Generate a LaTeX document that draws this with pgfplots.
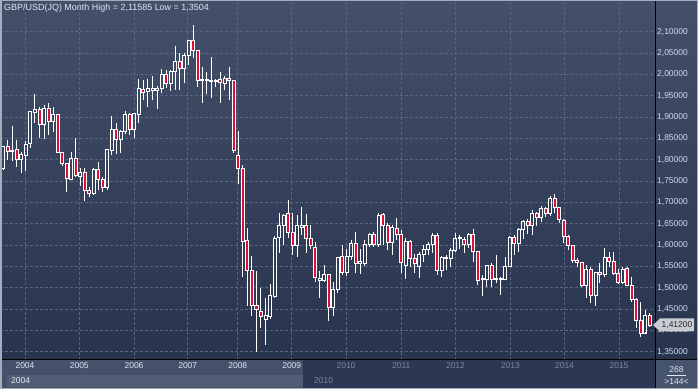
\documentclass[border=0pt]{standalone}
\usepackage{pgfplots}
\pgfplotsset{compat=1.18}
\usepackage{pgfplotstable}
\usepackage{fontspec}
\setmainfont{Liberation Sans}
\definecolor{bgtop}{RGB}{68,80,106}
\definecolor{bgbot}{RGB}{40,51,78}
\definecolor{gridc}{RGB}{88,101,128}
\definecolor{candred}{RGB}{222,14,54}
\definecolor{labc}{RGB}{205,220,240}
\definecolor{titc}{RGB}{222,230,240}
\definecolor{dimc}{RGB}{125,136,156}
\definecolor{stripdark}{RGB}{44,55,83}
\definecolor{striplight}{RGB}{69,81,107}
\definecolor{scrollc}{RGB}{82,94,120}
\definecolor{cornerc}{RGB}{70,83,108}
\definecolor{bordc}{RGB}{165,172,186}
\definecolor{pricebox}{RGB}{200,204,210}

\pgfplotstableread{
k O H L C
1 1.780 1.833 1.776 1.830
2 1.832 1.846 1.799 1.820
3 1.819 1.878 1.797 1.822
4 1.823 1.846 1.784 1.801
5 1.801 1.817 1.770 1.813
6 1.811 1.845 1.774 1.836
7 1.838 1.913 1.828 1.912
8 1.911 1.954 1.885 1.918
9 1.918 1.924 1.850 1.883
10 1.883 1.928 1.849 1.920
11 1.920 1.932 1.858 1.889
12 1.889 1.924 1.866 1.906
13 1.906 1.907 1.815 1.817
14 1.817 1.819 1.785 1.792
15 1.792 1.792 1.725 1.756
16 1.754 1.819 1.752 1.803
17 1.803 1.850 1.760 1.764
18 1.760 1.780 1.738 1.770
19 1.770 1.780 1.704 1.729
20 1.729 1.737 1.713 1.721
21 1.721 1.780 1.717 1.777
22 1.777 1.795 1.729 1.754
23 1.754 1.760 1.725 1.735
24 1.735 1.825 1.730 1.824
25 1.821 1.902 1.811 1.870
26 1.870 1.887 1.813 1.848
27 1.848 1.870 1.816 1.867
28 1.867 1.913 1.860 1.905
29 1.905 1.909 1.858 1.871
30 1.871 1.909 1.850 1.909
31 1.906 1.990 1.885 1.966
32 1.965 1.987 1.940 1.957
33 1.960 1.988 1.924 1.966
34 1.962 1.995 1.940 1.967
35 1.963 1.972 1.918 1.967
36 1.967 2.012 1.957 1.999
37 1.999 2.010 1.968 1.979
38 1.979 2.010 1.962 2.006
39 2.006 2.066 1.963 2.031
40 2.031 2.049 1.963 2.014
41 2.014 2.049 1.979 2.045
42 2.045 2.081 2.022 2.079
43 2.079 2.11585 2.038 2.056
44 2.056 2.056 1.971 1.985
45 1.985 2.018 1.932 1.988
46 1.986 2.006 1.955 1.988
47 1.984 2.040 1.945 1.986
48 1.984 1.990 1.971 1.986
49 1.987 2.006 1.934 1.981
50 1.979 1.995 1.963 1.991
51 1.991 2.018 1.941 1.985
52 1.985 1.987 1.815 1.821
53 1.811 1.868 1.743 1.780
54 1.780 1.788 1.526 1.608
55 1.612 1.639 1.456 1.540
56 1.540 1.574 1.434 1.458
57 1.458 1.540 1.3504 1.448
58 1.445 1.499 1.405 1.432
59 1.426 1.477 1.366 1.434
60 1.432 1.509 1.426 1.481
61 1.479 1.621 1.475 1.616
62 1.618 1.674 1.581 1.647
63 1.647 1.673 1.600 1.670
64 1.673 1.705 1.616 1.629
65 1.629 1.674 1.577 1.600
66 1.598 1.670 1.571 1.645
67 1.642 1.690 1.624 1.647
68 1.645 1.673 1.582 1.616
69 1.616 1.647 1.590 1.600
70 1.595 1.608 1.514 1.524
71 1.518 1.540 1.477 1.522
72 1.518 1.553 1.514 1.532
73 1.532 1.532 1.423 1.454
74 1.454 1.514 1.434 1.495
75 1.495 1.572 1.487 1.570
76 1.573 1.600 1.530 1.535
77 1.535 1.590 1.527 1.573
78 1.573 1.612 1.565 1.604
79 1.604 1.631 1.534 1.556
80 1.556 1.590 1.532 1.561
81 1.556 1.612 1.551 1.602
82 1.602 1.629 1.596 1.626
83 1.626 1.631 1.596 1.602
84 1.602 1.674 1.596 1.670
85 1.672 1.674 1.600 1.645
86 1.645 1.651 1.588 1.606
87 1.606 1.647 1.577 1.641
88 1.639 1.663 1.612 1.626
89 1.626 1.635 1.534 1.559
90 1.553 1.616 1.520 1.608
91 1.608 1.612 1.549 1.569
92 1.569 1.579 1.534 1.556
93 1.551 1.584 1.522 1.577
94 1.577 1.600 1.561 1.590
95 1.590 1.608 1.577 1.602
96 1.602 1.629 1.581 1.622
97 1.622 1.629 1.530 1.541
98 1.541 1.574 1.526 1.570
99 1.569 1.577 1.541 1.571
100 1.569 1.592 1.549 1.588
101 1.588 1.629 1.584 1.616
102 1.615 1.623 1.590 1.617
103 1.613 1.620 1.582 1.602
104 1.602 1.629 1.592 1.626
105 1.626 1.637 1.561 1.586
106 1.586 1.586 1.506 1.518
107 1.519 1.530 1.481 1.521
108 1.520 1.553 1.502 1.553
109 1.553 1.557 1.502 1.520
110 1.519 1.576 1.510 1.521
111 1.519 1.526 1.483 1.521
112 1.520 1.571 1.518 1.551
113 1.551 1.621 1.549 1.618
114 1.618 1.623 1.577 1.604
115 1.604 1.639 1.584 1.637
116 1.637 1.659 1.613 1.655
117 1.655 1.660 1.627 1.645
118 1.645 1.681 1.623 1.674
119 1.674 1.678 1.645 1.665
120 1.665 1.691 1.655 1.686
121 1.686 1.688 1.665 1.674
122 1.674 1.715 1.668 1.709
123 1.709 1.720 1.674 1.688
124 1.688 1.690 1.651 1.660
125 1.657 1.660 1.604 1.621
126 1.621 1.623 1.588 1.600
127 1.598 1.600 1.557 1.565
128 1.565 1.569 1.548 1.560
129 1.560 1.561 1.502 1.506
130 1.506 1.553 1.477 1.543
131 1.543 1.548 1.465 1.483
132 1.483 1.537 1.457 1.535
133 1.535 1.559 1.510 1.530
134 1.530 1.592 1.526 1.571
135 1.571 1.584 1.548 1.561
136 1.561 1.584 1.530 1.534
137 1.534 1.545 1.509 1.512
138 1.512 1.548 1.509 1.543
139 1.545 1.548 1.504 1.506
140 1.506 1.526 1.467 1.473
141 1.473 1.475 1.405 1.424
142 1.424 1.467 1.384 1.393
143 1.393 1.448 1.397 1.436
144 1.436 1.440 1.408 1.412
}\fx

\pgfplotsset{
  basecandle/.style={
    at={(0bp,29bp)}, anchor=south west, scale only axis,
    width=655bp, height=360bp,
    xmin=0.27, xmax=145.18, ymin=1.3306, ymax=2.1743,
    enlargelimits=false, clip=true,
  }
}

\begin{document}
\begin{tikzpicture}
\useasboundingbox (0bp,0bp) rectangle (698bp,389bp);
\shade[top color=bgtop, bottom color=bgbot] (0bp,29bp) rectangle (698bp,389bp);
\fill[stripdark] (0bp,0bp) rectangle (655bp,29bp);
\fill[striplight] (0bp,0bp) rectangle (303bp,29bp);
\fill[scrollc] (7bp,2bp) rectangle (303bp,14bp);
\fill[cornerc] (655bp,0bp) rectangle (698bp,29bp);

\begin{axis}[basecandle,
  axis line style={draw=none},
  major tick length=0pt,
  xtick={5.80,17.81,29.92,41.80,52.86,64.81,76.82,89.05,101.04,113.17,125.16,137.22},
  xticklabels={\textcolor{titc}{2004},\textcolor{titc}{2005},\textcolor{titc}{2006},\textcolor{titc}{2007},\textcolor{titc}{2008},\textcolor{titc}{2009},\textcolor{dimc}{2010},\textcolor{dimc}{2011},\textcolor{dimc}{2012},\textcolor{dimc}{2013},\textcolor{dimc}{2014},\textcolor{dimc}{2015}},
  xticklabel style={font=\fontsize{8.5}{10}\selectfont, inner sep=2pt},
  ytick={1.35,1.40,1.45,1.50,1.55,1.60,1.65,1.70,1.75,1.80,1.85,1.90,1.95,2.00,2.05,2.10},
  yticklabel pos=right,
  yticklabel style={font=\fontsize{8.5}{10}\selectfont, text=labc, anchor=west, inner sep=2pt,
    /pgf/number format/.cd, fixed, fixed zerofill, precision=5, use comma, assume math mode=true},
  xmajorgrids, ymajorgrids,
  grid style={gridc, dash pattern=on 2.5bp off 2.5bp, line width=0.6bp},
]
\addplot[draw=none, mark=none,
  error bars/.cd, y dir=plus, y explicit, error mark=none,
  error bar style={white, line width=0.95bp}]
  table[x=k, y expr={max(\thisrow{O},\thisrow{C})}, y error expr={\thisrow{H}-max(\thisrow{O},\thisrow{C})}] {\fx};
\addplot[draw=none, mark=none,
  error bars/.cd, y dir=minus, y explicit, error mark=none,
  error bar style={white, line width=0.95bp}]
  table[x=k, y expr={min(\thisrow{O},\thisrow{C})}, y error expr={min(\thisrow{O},\thisrow{C})-\thisrow{L}}] {\fx};
\end{axis}

\begin{axis}[basecandle, hide axis, ybar stacked, bar width=3.0bp]
\addplot[draw=none, fill=none] table[x=k, y expr={min(\thisrow{O},\thisrow{C})}] {\fx};
\addplot[draw=white, fill=none, line width=0.85bp] table[x=k, y expr={max(\thisrow{C}-\thisrow{O},0)}] {\fx};
\addplot[draw=white, fill=candred, line width=0.85bp] table[x=k, y expr={max(\thisrow{O}-\thisrow{C},0)}] {\fx};
\end{axis}

\draw[black, line width=1bp] (655bp,0bp) -- (655bp,389bp);
\draw[black, line width=1bp] (0bp,29bp) -- (698bp,29bp);

\node[anchor=west, inner sep=0pt, text=titc, font=\fontsize{9}{10}\selectfont] at (4bp,380.5bp) {GBP/USD(JQ) Month High = 2,11585 Low = 1,3504};

\node[anchor=west, inner sep=0pt, text=titc, font=\fontsize{8.5}{10}\selectfont] at (11bp,8bp) {2004};
\node[anchor=west, inner sep=0pt, text=dimc, font=\fontsize{8.5}{10}\selectfont] at (314bp,8bp) {2010};

\node[text=titc, inner sep=0pt, font=\fontsize{8.5}{10}\selectfont] at (676.5bp,19.5bp) {268};
\draw[titc, line width=0.6bp] (667bp,13.5bp) -- (686bp,13.5bp);
\node[text=titc, inner sep=0pt, font=\fontsize{8.5}{10}\selectfont] at (676.5bp,7bp) {>144<};

\fill[pricebox] (653bp,64bp) -- (660bp,70.5bp) -- (694bp,70.5bp) -- (694bp,57.5bp) -- (660bp,57.5bp) -- cycle;
\node[text=black!85, inner sep=0pt, font=\fontsize{8.5}{10}\selectfont] at (677bp,64bp) {1,41200};

\draw[bordc, line width=1.5bp] (0.75bp,0.75bp) rectangle (697.25bp,388.25bp);
\end{tikzpicture}
\end{document}
